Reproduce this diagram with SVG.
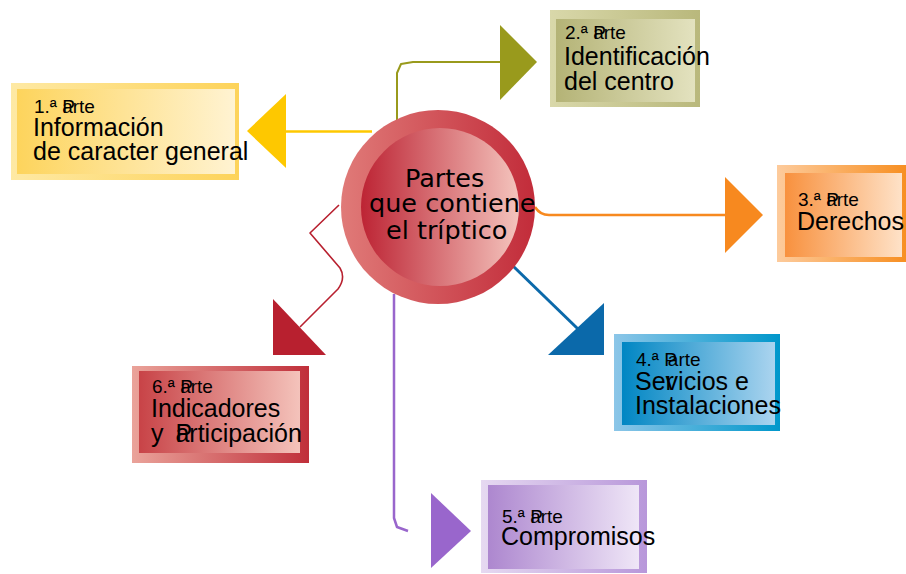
<svg xmlns="http://www.w3.org/2000/svg" width="906" height="574" viewBox="0 0 906 574">
<defs>
<linearGradient id="o1" x1="0" y1="0" x2="1" y2="0"><stop offset="0" stop-color="#fee9a4"/><stop offset="1" stop-color="#fdd35a"/></linearGradient>
<linearGradient id="i1" x1="0" y1="0" x2="1" y2="0"><stop offset="0" stop-color="#fdd45c"/><stop offset="1" stop-color="#fff3d2"/></linearGradient>
<linearGradient id="o2" x1="0" y1="0" x2="1" y2="0"><stop offset="0" stop-color="#d9d8aa"/><stop offset="1" stop-color="#b9b87c"/></linearGradient>
<linearGradient id="i2" x1="0" y1="0" x2="1" y2="0"><stop offset="0" stop-color="#b4b376"/><stop offset="1" stop-color="#e3e2bf"/></linearGradient>
<linearGradient id="o3" x1="0" y1="0" x2="1" y2="0"><stop offset="0" stop-color="#fdcb9c"/><stop offset="1" stop-color="#f78f22"/></linearGradient>
<linearGradient id="i3" x1="0" y1="0" x2="1" y2="0"><stop offset="0" stop-color="#f8913e"/><stop offset="1" stop-color="#fee2c8"/></linearGradient>
<linearGradient id="o4" x1="0" y1="0" x2="1" y2="0"><stop offset="0" stop-color="#8cc6e8"/><stop offset="1" stop-color="#0097cb"/></linearGradient>
<linearGradient id="i4" x1="0" y1="0" x2="1" y2="0"><stop offset="0" stop-color="#0086c3"/><stop offset="1" stop-color="#abd4ef"/></linearGradient>
<linearGradient id="o5" x1="0" y1="0" x2="1" y2="0"><stop offset="0" stop-color="#e6d9f1"/><stop offset="1" stop-color="#b897da"/></linearGradient>
<linearGradient id="i5" x1="0" y1="0" x2="1" y2="0"><stop offset="0" stop-color="#ad87cf"/><stop offset="1" stop-color="#efe6f7"/></linearGradient>
<linearGradient id="o6" x1="0" y1="0" x2="1" y2="0"><stop offset="0" stop-color="#eaa39a"/><stop offset="1" stop-color="#c02f3a"/></linearGradient>
<linearGradient id="i6" x1="0" y1="0" x2="1" y2="0"><stop offset="0" stop-color="#c84347"/><stop offset="1" stop-color="#f4c3bb"/></linearGradient>
<linearGradient id="oc" x1="0" y1="0" x2="1" y2="0"><stop offset="0" stop-color="#e07a78"/><stop offset="1" stop-color="#c22c3a"/></linearGradient>
<linearGradient id="ic" x1="0" y1="0" x2="1" y2="0"><stop offset="0" stop-color="#bd2434"/><stop offset="1" stop-color="#f4c4bd"/></linearGradient>
</defs>
<style>
text{font-family:"Liberation Sans",Arial,sans-serif;fill:#000;}
.s{font-size:19px;}
.b{font-size:25px;}
.c{font-family:"DejaVu Sans","Liberation Sans",sans-serif;font-size:25.5px;}
.ln{fill:none;stroke-linejoin:round;}
</style>
<g id="connectors">
<path class="ln" d="M372 131.5 H284" stroke="#fec800" stroke-width="2.5"/>
<polygon points="247,131 286,94 286,168" fill="#fec800"/>
<path class="ln" d="M397 122 V73 L401 64 L413 62 H502" stroke="#999a1c" stroke-width="2"/>
<polygon points="500,25 537,62 500,100" fill="#999a1c"/>
<path class="ln" d="M535 207 Q540 215 549 215 H727" stroke="#f7891f" stroke-width="2.5"/>
<polygon points="725,177 763,215 725,253" fill="#f7891f"/>
<path class="ln" d="M513 266 L578 329" stroke="#0b69aa" stroke-width="3"/>
<polygon points="548,355 604,303 604,355" fill="#0b69aa"/>
<path class="ln" d="M394 294 V518 L397 527 L408 531" stroke="#9966cc" stroke-width="2.5"/>
<polygon points="431,493 471,531 431,568" fill="#9966cc"/>
<path class="ln" d="M339 205 L310 233 L340 268 Q346 278 338 289 L300 327" stroke="#b8202f" stroke-width="1.6"/>
<polygon points="273,299 326,355 273,355" fill="#b8202f"/>
</g>
<g id="center">
<circle cx="438" cy="207" r="97" fill="url(#oc)"/>
<circle cx="440" cy="207" r="79" fill="url(#ic)"/>
<text class="c" x="405" y="187">Partes</text>
<text class="c" x="369" y="212">que contiene</text>
<text class="c" x="386" y="239">el tríptico</text>
</g>
<g id="parte1">
<rect x="11" y="83" width="228" height="97" fill="url(#o1)"/>
<rect x="17" y="89" width="218" height="85" fill="url(#i1)"/>
<text class="s" x="34" y="113">1.ª P<tspan dx="-12.7">arte</tspan></text>
<text class="b" x="33" y="136">Información</text>
<text class="b" x="33" y="160">de caracter general</text>
</g>
<g id="parte2">
<rect x="550" y="10" width="150" height="97" fill="url(#o2)"/>
<rect x="556" y="19" width="139" height="83" fill="url(#i2)"/>
<text class="s" x="565" y="39">2.ª P<tspan dx="-12.7">arte</tspan></text>
<text class="b" x="564" y="65">Identificación</text>
<text class="b" x="564" y="90">del centro</text>
</g>
<g id="parte3">
<rect x="777" y="165" width="129" height="97" fill="url(#o3)"/>
<rect x="785" y="173" width="117" height="84" fill="url(#i3)"/>
<text class="s" x="798" y="206">3.ª P<tspan dx="-12.7">arte</tspan></text>
<text class="b" x="797" y="230">Derechos</text>
</g>
<g id="parte4">
<rect x="614" y="334" width="166" height="97" fill="url(#o4)"/>
<rect x="622" y="342" width="153" height="83" fill="url(#i4)"/>
<text class="s" x="636" y="366">4.ª P<tspan dx="-9">arte</tspan></text>
<text class="b" x="635" y="390">Ser<tspan dx="-8.3">vicios e</tspan></text>
<text class="b" x="635" y="414">Instalaciones</text>
</g>
<g id="parte5">
<rect x="481" y="480" width="166" height="93" fill="url(#o5)"/>
<rect x="488" y="485" width="151" height="84" fill="url(#i5)"/>
<text class="s" x="502" y="523">5.ª P<tspan dx="-12.7">arte</tspan></text>
<text class="b" x="501" y="545">Compromisos</text>
</g>
<g id="parte6">
<rect x="132" y="366" width="177" height="97" fill="url(#o6)"/>
<rect x="139" y="371" width="161" height="82" fill="url(#i6)"/>
<text class="s" x="152" y="393">6.ª P<tspan dx="-12.7">arte</tspan></text>
<text class="b" x="151" y="417">Indicadores</text>
<text class="b" x="151" y="442">y <tspan dx="5">P</tspan><tspan dx="-16.7">articipación</tspan></text>
</g>
</svg>
